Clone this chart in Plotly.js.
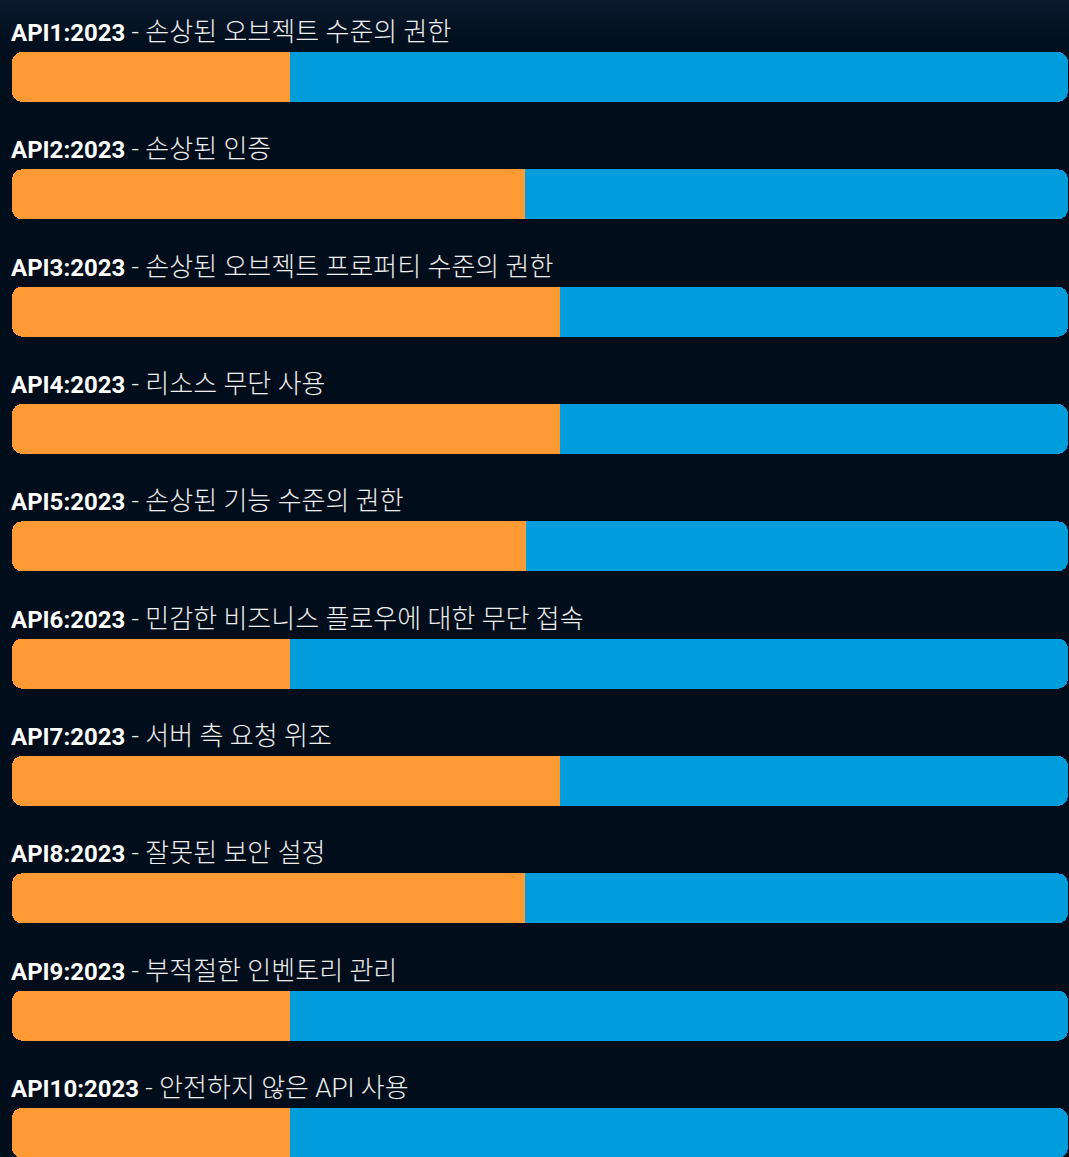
<!DOCTYPE html>
<html>
<head>
<meta charset="utf-8">
<script src="https://cdn.plot.ly/plotly-3.0.1.min.js"></script>
<style>
html,body{margin:0;padding:0;width:1069px;height:1157px;overflow:hidden;
background:linear-gradient(180deg,#0b1a2e 0px,#020f1e 40px,#010d1a 120px,#010d1a 100%);}
#chart{width:1069px;height:1157px;}
</style>
</head>
<body>
<div id="chart"></div>
<script>
const codes = ["API1:2023","API2:2023","API3:2023","API4:2023","API5:2023","API6:2023","API7:2023","API8:2023","API9:2023","API10:2023"];
const names = ["손상된 오브젝트 수준의 권한","손상된 인증","손상된 오브젝트 프로퍼티 수준의 권한","리소스 무단 사용","손상된 기능 수준의 권한","민감한 비즈니스 플로우에 대한 무단 접속","서버 측 요청 위조","잘못된 보안 설정","부적절한 인벤토리 관리","안전하지 않은 API 사용"];
const orangeVals = [26.3, 48.6, 51.9, 51.9, 48.7, 26.3, 51.9, 48.6, 26.3, 26.3];
const blueVals = [73.7, 51.4, 48.1, 48.1, 51.3, 73.7, 48.1, 51.4, 73.7, 73.7];

const ORANGE = "#FF9A35", BLUE = "#009DDC";
const fontFam = "Roboto, 'Noto Sans CJK KR', sans-serif";
const BW = 0.426;

// Full-length rounded bar in orange (floating bar => both ends rounded), drawn underneath
const orangeTrace = {
  type: "bar", orientation: "h", y: codes, xaxis: "x", yaxis: "y",
  x: orangeVals.map((v, i) => v + blueVals[i]), base: orangeVals.map(() => 0),
  width: BW,
  marker: {color: ORANGE, line: {width: 0}},
  hoverinfo: "skip", showlegend: false
};
// Stack on the overlay axis: orange share (transparent, shown by the bar below) then blue share
const orangeShare = {
  type: "bar", orientation: "h", y: codes, xaxis: "x2", yaxis: "y",
  x: orangeVals, width: BW,
  marker: {color: "rgba(0,0,0,0)", line: {width: 0}},
  hoverinfo: "skip", showlegend: false
};
const blueTrace = {
  type: "bar", orientation: "h", y: codes, xaxis: "x2", yaxis: "y",
  x: blueVals, width: BW,
  marker: {color: BLUE, line: {width: 0}},
  hoverinfo: "skip", showlegend: false
};

const annotations = codes.map((c, i) => ({
  x: 0, xref: "x2", xanchor: "left", xshift: -3,
  y: c, yref: "y", yanchor: "bottom", yshift: 28,
  text: "<b>" + c + "</b><span style='font-weight:300;font-size:26px;color:#eeeeee'> - " + names[i] + "</span>",
  showarrow: false, align: "left",
  font: {family: fontFam, size: 24, color: "#ffffff"}
}));

const layout = {
  width: 1069, height: 1157,
  margin: {l: 12, r: 1, t: 0, b: 0, pad: 0},
  paper_bgcolor: "rgba(0,0,0,0)", plot_bgcolor: "rgba(0,0,0,0)",
  barmode: "stack",
  barcornerradius: 10,
  xaxis: {range: [0, 100], visible: false, fixedrange: true},
  xaxis2: {range: [0, 100], overlaying: "x", visible: false, fixedrange: true},
  yaxis: {type: "category", range: [9.205, -0.656], visible: false, fixedrange: true},
  annotations: annotations,
  font: {family: fontFam}
};
Plotly.newPlot("chart", [orangeTrace, orangeShare, blueTrace], layout, {staticPlot: true, displayModeBar: false});
</script>
</body>
</html>
